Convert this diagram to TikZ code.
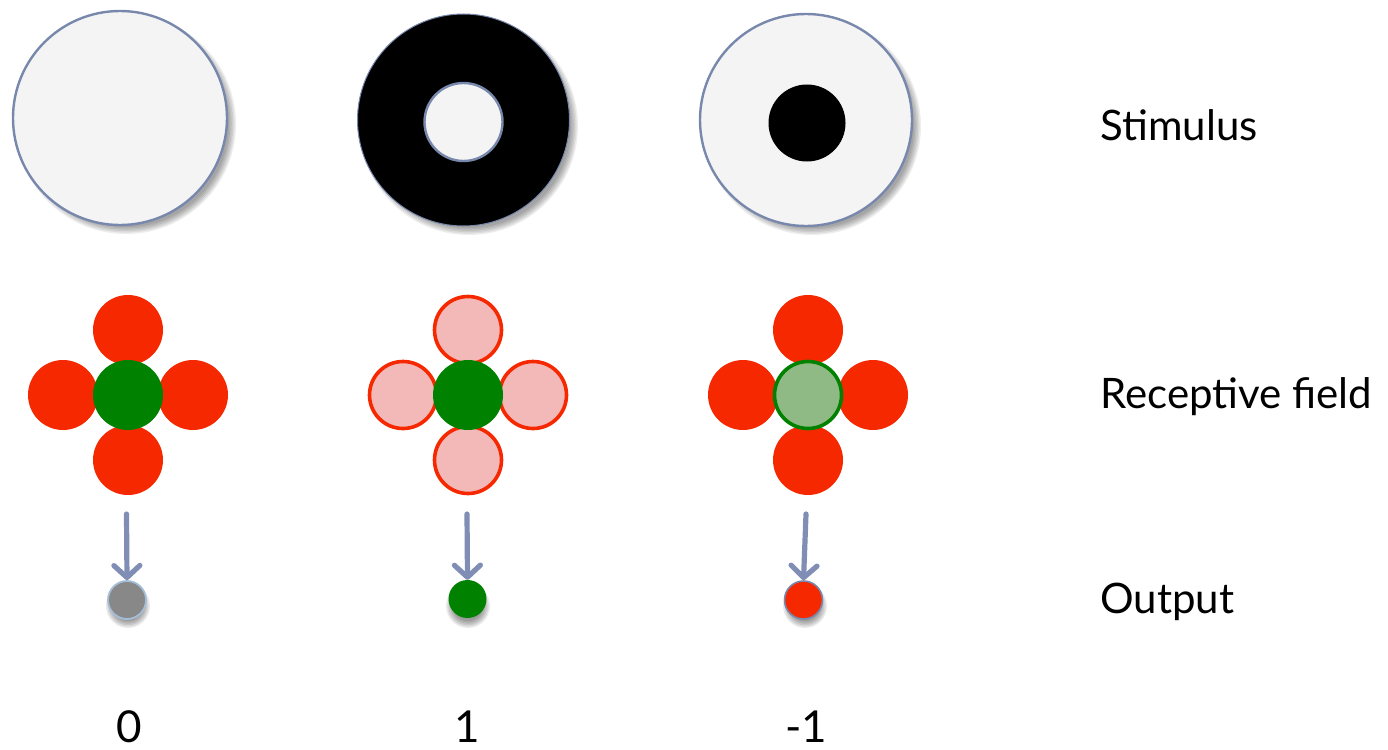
\documentclass[tikz,border=0pt]{standalone}
\usepackage{fontspec}
\setmainfont{Lato}
\usetikzlibrary{arrows.meta}
\definecolor{rfred}{RGB}{246,40,0}
\definecolor{rfgreen}{RGB}{0,130,0}
\definecolor{pinkfill}{RGB}{243,184,184}
\definecolor{lgreen}{RGB}{143,186,134}
\definecolor{stimfill}{RGB}{244,244,244}
\definecolor{rimblue}{RGB}{120,135,172}
\definecolor{arrowblue}{RGB}{128,142,182}
\definecolor{outgray}{RGB}{136,136,136}
\definecolor{outrim}{RGB}{165,190,215}
\newcommand{\softshade}[4]{%
  \foreach \k in {0,...,5}{\fill[black,opacity=#4] (#1,#2) circle[radius={#3-4+\k*1.4}];}}
\tikzset{
  disc/.style={circle,inner sep=0pt,minimum size=#1},
  stim/.style={disc=#1,fill=stimfill,draw=rimblue,line width=2.4pt},
  ring/.style={disc=#1,fill=black,draw=rimblue,line width=1pt},
  surr/.style={disc=70pt,fill=rfred},
  surrweak/.style={disc=67pt,fill=pinkfill,draw=rfred,line width=3.6pt},
  cent/.style={disc=70pt,fill=rfgreen},
  centweak/.style={disc=67pt,fill=lgreen,draw=rfgreen,line width=3.6pt},
  outp/.style={disc=38pt},
  conn/.style={draw=arrowblue,line width=5.2pt,line cap=round,
    -{Straight Barb[length=12pt,width=26pt,line cap=round,line join=round]}},
  lbl/.style={anchor=base west,font=\fontsize{42}{50}\selectfont},
  num/.style={anchor=base,font=\fontsize{44}{50}\selectfont},
}
\begin{document}
\begin{tikzpicture}[x=1pt,y=-1pt]
\useasboundingbox (0,0) rectangle (1388,749);
% ---------- Stimulus row ----------
\softshade{126}{124}{107}{0.07}
\softshade{469}{126}{106}{0.07}
\softshade{812}{126}{106}{0.07}
\node[stim=214pt] (s1) at (120,118) {};
\node[ring=212pt] (s2) at (463.5,120) {};
\node[stim=78pt] (s2in) at (463.5,122) {};
\node[stim=212pt] (s3) at (806,120) {};
\node[disc=77pt,fill=black] (s3in) at (807,123) {};
% ---------- Receptive fields ----------
% column 1
\node[surr] (r1t) at (128,330) {};
\node[surr] (r1b) at (128,460) {};
\node[surr] (r1l) at (63,395) {};
\node[surr] (r1r) at (193,395) {};
\node[cent] (r1c) at (128,395) {};
% column 2
\node[surrweak] (r2t) at (468,330) {};
\node[surrweak] (r2b) at (468,460) {};
\node[surrweak] (r2l) at (403,395) {};
\node[surrweak] (r2r) at (533,395) {};
\node[cent] (r2c) at (468,395) {};
% column 3
\node[surr] (r3t) at (808,330) {};
\node[surr] (r3b) at (808,460) {};
\node[surr] (r3l) at (743,395) {};
\node[surr] (r3r) at (873,395) {};
\node[centweak] (r3c) at (808,395) {};
% ---------- Outputs ----------
\softshade{128}{606}{19}{0.08}
\softshade{468}{606}{19}{0.08}
\softshade{805}{606}{19}{0.08}
\node[outp,fill=outgray,draw=outrim,line width=1.8pt] (o1) at (127,600) {};
\node[outp,fill=rfgreen] (o2) at (467.5,599) {};
\node[outp,fill=rfred,draw=rimblue,line width=1.6pt] (o3) at (803.5,600) {};
% ---------- Arrows ----------
\coordinate (a1) at (126.5,514);
\coordinate (a2) at (467,514);
\coordinate (a3) at (806,514);
\draw[conn] (a1) -- (o1.north);
\draw[conn] (a2) -- (o2.north);
\draw[conn] (a3) -- (o3.north);
% ---------- Labels ----------
\node[lbl] (tstim) at (1097,140) {Stimulus};
\node[lbl] (trf) at (1097,408) {Receptive field};
\node[lbl] (tout) at (1097,613) {Output};
\node[num] (n1) at (129,742) {0};
\node[num] (n2) at (467,742) {1};
\node[num] (n3) at (806,742) {-1};
\end{tikzpicture}
\end{document}
